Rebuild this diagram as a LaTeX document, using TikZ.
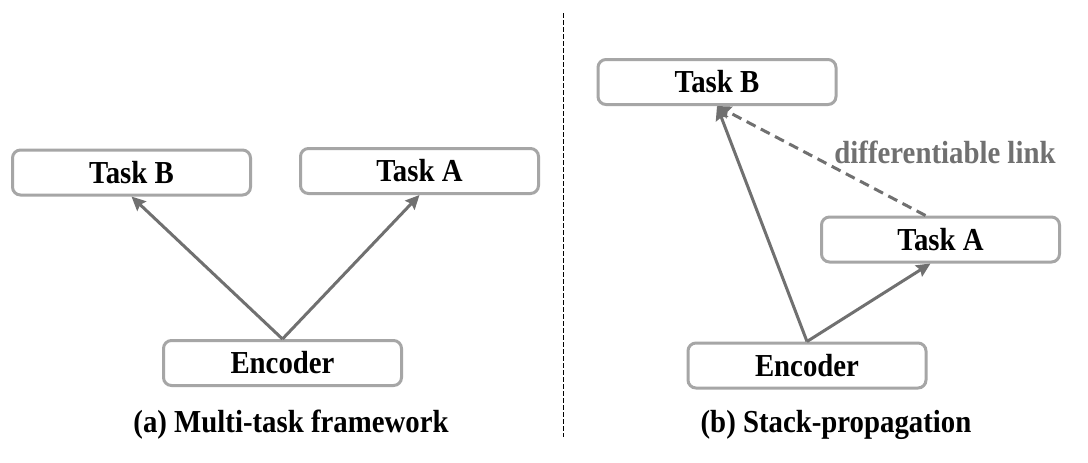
\documentclass[tikz,border=0pt]{standalone}
\usepackage{fontspec}
\setmainfont[FakeStretch=0.9]{Liberation Serif}
\usetikzlibrary{arrows.meta}
\definecolor{boxgray}{HTML}{A6A6A6}
\definecolor{arrowgray}{HTML}{707070}
\tikzset{
	taskbox/.style={draw=boxgray, line width=1.5pt, rounded corners=4pt, fill=white,
		minimum width=119pt, minimum height=22.5pt, inner sep=0pt,
		font=\bfseries\fontsize{16}{19}\selectfont},
	flow/.style={draw=arrowgray, line width=1.5pt, -{Stealth[length=7pt, width=6.5pt, inset=1pt]}},
	difflink/.style={flow, dash pattern=on 5pt off 3pt},
	caption/.style={font=\bfseries\fontsize{16}{19}\selectfont},
}

\begin{document}
\begin{tikzpicture}[x=0.5pt, y=-0.5pt]
			%%%%% START %%%%%
			
			\fill[white] (0, 0) rectangle (1088, 462);
			\useasboundingbox (0, 0) rectangle (1088, 462);
			
			\draw[line width=0.5pt, dash pattern=on 2.5pt off 1pt] (563, 13) -- (563, 437);
			
			% (a) multi-task
			\node[taskbox] (taskBa) at (131.5, 172.5) {Task B};
			\node[taskbox] (taskAa) at (419.5, 171) {Task A};
			\node[taskbox] (encA) at (282.5, 363) {Encoder};
			
			\draw[flow] (encA.north) -- (taskBa.south);
			\draw[flow] (encA.north) -- (taskAa.south);
			
			\node[caption] (capA) at (291, 425) {(a) Multi-task framework};
			
			% (b) stack-propagation
			\node[taskbox] (taskBb) at (717, 82) {Task B};
			\node[taskbox] (taskAb) at (940.5, 239.5) {Task A};
			\node[taskbox] (encB) at (807, 365.5) {Encoder};
			
			\draw[flow] (encB.north) -- (taskBb.south);
			\draw[flow] (encB.north) -- ([xshift=-5pt]taskAb.south);
			\draw[difflink] ([xshift=-7.5pt]taskAb.north) -- (taskBb.south);
			
			\node[caption, text=arrowgray] (linkText) at (945, 152) {differentiable link};
			\node[caption] (capB) at (836, 425) {(b) Stack-propagation};
			
			%%%%% END %%%%%
\end{tikzpicture}
\end{document}
